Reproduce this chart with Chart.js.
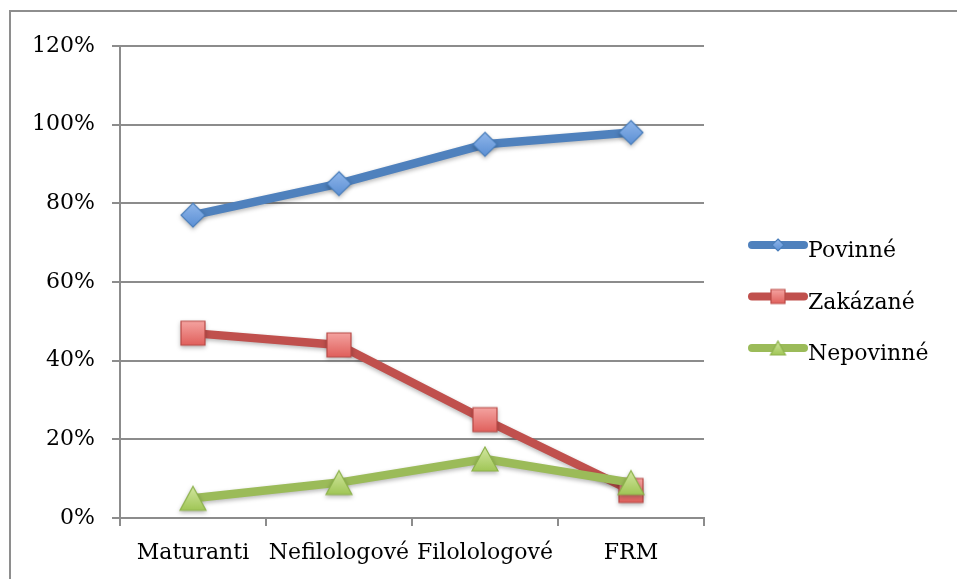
<!DOCTYPE html>
<html>
<head>
<meta charset="utf-8">
<title>Povinné, zakázané a nepovinné</title>
<script src="https://cdn.jsdelivr.net/npm/chart.js@4/dist/chart.umd.min.js"></script>
<style>
  html, body { margin: 0; padding: 0; background: #fff; }
  #wrap { position: relative; width: 957px; height: 579px; overflow: hidden; }
</style>
</head>
<body>
<div id="wrap"><canvas id="chart" width="957" height="579"></canvas></div>
<script>
// Categories along the x axis
const categories = ['Maturanti', 'Nefilologové', 'Filolologové', 'FRM'];

// Series values, in percent
const povinne = [77, 85, 95, 98];
const zakazane = [47, 44, 25, 7];
const nepovinne = [5, 9, 15, 9];

// Series names shown in the legend
const seriesNames = ['Povinné', 'Zakázané', 'Nepovinné'];

// Value axis tick labels
const yTickLabels = ['0%', '20%', '40%', '60%', '80%', '100%', '120%'];

const FONT = '"DejaVu Serif", "Liberation Serif", serif';
const GRID = '#8c8c8c';

// Builds a small marker image with a vertical gradient fill and an outline
function makeMarker(shape, w, h, top, bottom, stroke) {
  const pad = 2;
  const c = document.createElement('canvas');
  c.width = w + pad * 2;
  c.height = h + pad * 2;
  const g = c.getContext('2d');
  const x0 = pad, y0 = pad, x1 = pad + w, y1 = pad + h;
  const cx = (x0 + x1) / 2, cy = (y0 + y1) / 2;
  g.beginPath();
  if (shape === 'diamond') {
    g.moveTo(cx, y0); g.lineTo(x1, cy); g.lineTo(cx, y1); g.lineTo(x0, cy);
  } else if (shape === 'square') {
    g.rect(x0, y0, w, h);
  } else {
    g.moveTo(cx, y0); g.lineTo(x1, y1); g.lineTo(x0, y1);
  }
  g.closePath();
  const grad = g.createLinearGradient(0, y0, 0, y1);
  grad.addColorStop(0, top);
  grad.addColorStop(1, bottom);
  g.fillStyle = grad;
  g.fill();
  g.lineWidth = 1.2;
  g.strokeStyle = stroke;
  g.stroke();
  return c;
}

const lineColors = ['#4f81bd', '#c0504d', '#9bbb59'];
const markers = [
  makeMarker('diamond', 24, 24, '#8fb6ea', '#5b8fd4', '#4a7ebb'),
  makeMarker('square', 24, 24, '#f4a3a0', '#e0605c', '#b94a47'),
  makeMarker('triangle', 26, 24, '#d2e6a0', '#a0c656', '#8db24c')
];
const legendMarkers = [
  makeMarker('diamond', 12, 12, '#8fb6ea', '#5b8fd4', '#4a7ebb'),
  makeMarker('square', 14, 14, '#f4a3a0', '#e0605c', '#b94a47'),
  makeMarker('triangle', 15, 14, '#d2e6a0', '#a0c656', '#8db24c')
];
const seriesValues = [povinne, zakazane, nepovinne];

// Soft drop shadow under the lines and markers
const shadowPlugin = {
  id: 'shadow',
  beforeDatasetsDraw(chart) {
    const ctx = chart.ctx;
    ctx.save();
    ctx.shadowColor = 'rgba(0,0,0,0.28)';
    ctx.shadowBlur = 4;
    ctx.shadowOffsetX = 0;
    ctx.shadowOffsetY = 2;
  },
  afterDatasetsDraw(chart) {
    chart.ctx.restore();
  }
};

// Outer frame and the legend on the right
const framePlugin = {
  id: 'frame',
  beforeDraw(chart) {
    const ctx = chart.ctx;
    ctx.save();
    ctx.strokeStyle = '#8e8e8e';
    ctx.lineWidth = 2;
    ctx.strokeRect(10, 11, 1000, 1000);
    ctx.restore();
  },
  afterDraw(chart) {
    const ctx = chart.ctx;
    ctx.save();
    const x0 = 752, x1 = 804, xm = 778;
    seriesNames.forEach((name, i) => {
      const ly = 245 + 51.5 * i;
      ctx.strokeStyle = lineColors[i];
      ctx.lineWidth = 8;
      ctx.lineCap = 'round';
      ctx.beginPath();
      ctx.moveTo(x0, ly);
      ctx.lineTo(x1, ly);
      ctx.stroke();
      const m = legendMarkers[i];
      ctx.drawImage(m, xm - m.width / 2, ly - m.height / 2);
      ctx.fillStyle = '#000';
      ctx.font = '22px ' + FONT;
      ctx.textBaseline = 'alphabetic';
      ctx.textAlign = 'left';
      ctx.fillText(name, 808, 257 + 51.5 * i);
    });
    ctx.restore();
  }
};

const datasets = seriesNames.map((name, i) => ({
  label: name,
  data: seriesValues[i],
  borderColor: lineColors[i],
  backgroundColor: lineColors[i],
  borderWidth: 8.5,
  borderCapStyle: 'round',
  borderJoinStyle: 'round',
  tension: 0,
  pointStyle: markers[i],
  pointRadius: 12,
  pointHoverRadius: 12,
  order: 2 - i,
  clip: false
}));

new Chart(document.getElementById('chart'), {
  type: 'line',
  data: { labels: categories, datasets },
  plugins: [framePlugin, shadowPlugin],
  options: {
    responsive: false,
    animation: false,
    devicePixelRatio: 1,
    layout: { padding: { left: 0, top: 46, right: 253, bottom: 0 } },
    plugins: {
      legend: { display: false },
      tooltip: { enabled: false }
    },
    scales: {
      x: {
        type: 'category',
        offset: true,
        grid: {
          offset: true,
          drawOnChartArea: false,
          drawTicks: true,
          tickLength: 8,
          color: GRID,
          lineWidth: 2
        },
        border: { display: true, color: GRID, width: 2 },
        ticks: {
          color: '#000',
          font: { family: FONT, size: 22 },
          padding: 14,
          maxRotation: 0,
          autoSkip: false
        },
        afterFit(scale) { scale.height = 61; }
      },
      y: {
        min: 0,
        max: 120,
        grid: {
          color: GRID,
          lineWidth: 2,
          drawTicks: true,
          tickLength: 8
        },
        border: { display: true, color: GRID, width: 2 },
        ticks: {
          stepSize: 20,
          color: '#000',
          font: { family: FONT, size: 22 },
          padding: 17,
          callback: (v, idx) => yTickLabels[idx]
        },
        afterFit(scale) { scale.width = 120; }
      }
    }
  }
});
</script>
</body>
</html>
